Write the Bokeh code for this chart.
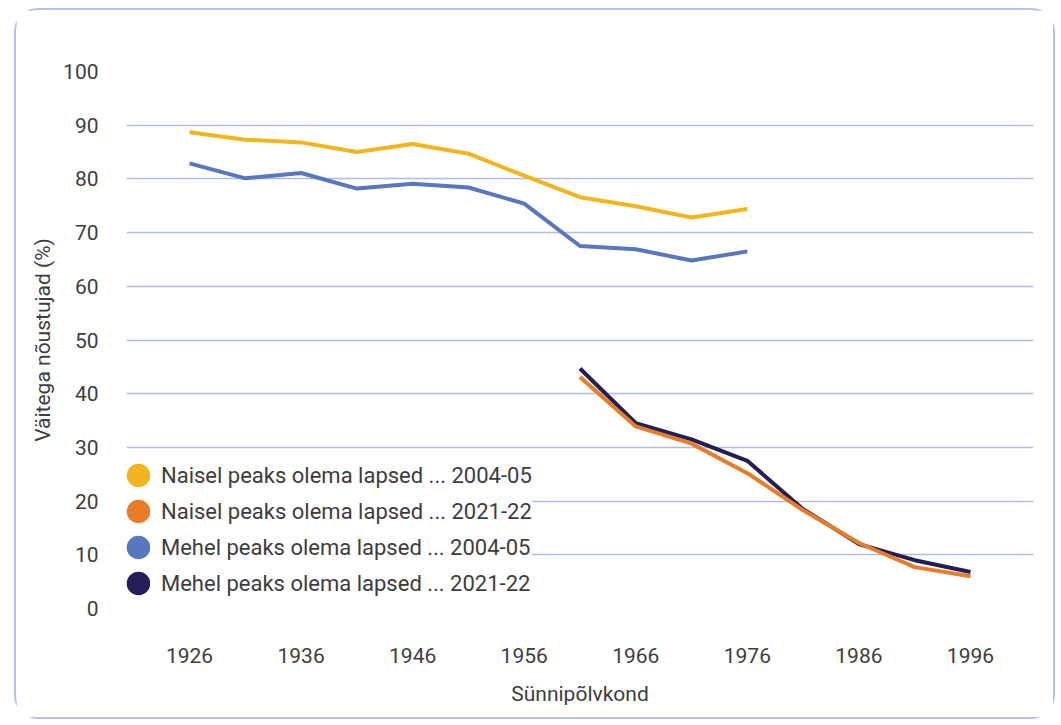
from bokeh.plotting import figure
from bokeh.models import Range1d, Legend, LegendItem, FixedTicker, ColumnDataSource
from bokeh.embed import file_html
from bokeh.resources import INLINE

# ---- data ----
years_a = [1926, 1931, 1936, 1941, 1946, 1951, 1956, 1961, 1966, 1971, 1976]
naisel_2004 = [88.7, 87.3, 86.8, 85.0, 86.5, 84.7, 80.6, 76.6, 74.9, 72.8, 74.4]
mehel_2004 = [82.9, 80.1, 81.1, 78.2, 79.1, 78.4, 75.4, 67.5, 66.9, 64.8, 66.5]

years_b = [1961, 1966, 1971, 1976, 1981, 1986, 1991, 1996]
naisel_2021 = [43.1, 33.9, 30.7, 25.2, 18.3, 12.2, 7.7, 6.0]
mehel_2021 = [44.7, 34.5, 31.5, 27.5, 18.5, 12.0, 9.0, 6.8]

x_ticks = [1926, 1936, 1946, 1956, 1966, 1976, 1986, 1996]
y_ticks = [0, 10, 20, 30, 40, 50, 60, 70, 80, 90, 100]

labels = [
    "Naisel peaks olema lapsed ... 2004-05",
    "Naisel peaks olema lapsed ... 2021-22",
    "Mehel peaks olema lapsed ... 2004-05",
    "Mehel peaks olema lapsed ... 2021-22",
]
colors = ["#f1b61d", "#e97c27", "#5877be", "#221f58"]
series_x = [years_a, years_b, years_a, years_b]
series_y = [naisel_2004, naisel_2021, mehel_2004, mehel_2021]

FONT = "Roboto"
TXT = "#3d3d3d"

p = figure(
    width=1041, height=711,
    x_range=Range1d(1920.35, 2001.65),
    y_range=Range1d(0, 100),
    output_backend="svg", toolbar_location=None,
    min_border_left=110, min_border_right=24,
    min_border_top=61, min_border_bottom=113,
)
p.margin = (8, 0, 0, 14)
p.styles = {"border": "2px solid #b7c0e8", "border-radius": "24px"}
p.outline_line_color = None
p.background_fill_color = "white"
p.border_fill_color = "white"

p.xgrid.grid_line_color = None
p.ygrid.grid_line_color = "#b0bae4"
p.ygrid.grid_line_width = 1.5

p.xaxis.ticker = FixedTicker(ticks=x_ticks)
p.yaxis.ticker = FixedTicker(ticks=y_ticks)
for ax in (p.xaxis[0], p.yaxis[0]):
    ax.axis_line_color = None
    ax.major_tick_line_color = None
    ax.minor_tick_line_color = None
    ax.major_label_text_font = FONT
    ax.major_label_text_font_size = "21px"
    ax.major_label_text_color = TXT
    ax.axis_label_text_font = FONT
    ax.axis_label_text_font_size = "21px"
    ax.axis_label_text_font_style = "normal"
    ax.axis_label_text_color = TXT

p.xaxis.axis_label = "Sünnipõlvkond"
p.yaxis.axis_label = "Väitega nõustujad (%)"
p.xaxis.major_label_standoff = 33
p.xaxis.axis_label_standoff = 16
p.yaxis.major_label_standoff = 22
p.yaxis.axis_label_standoff = 5

lw = 4
p.line(years_a, mehel_2004, line_color=colors[2], line_width=lw, line_join="round")
p.line(years_a, naisel_2004, line_color=colors[0], line_width=lw, line_join="round")
p.line(years_b, mehel_2021, line_color=colors[3], line_width=lw, line_join="round")
p.line(years_b, naisel_2021, line_color=colors[1], line_width=lw, line_join="round")

# legend swatches: hidden circle-marker renderers, drawn only as legend glyphs
items = []
for lab, col, xs, ys in zip(labels, colors, series_x, series_y):
    src = ColumnDataSource(data=dict(x=xs, y=ys))
    r = p.scatter("x", "y", source=src, marker="circle",
                  fill_color=col, line_color=col, line_width=14)
    r.visible = False
    items.append(LegendItem(label=lab, renderers=[r]))

legend = Legend(
    items=items, location=(0, 10),
    glyph_width=24, glyph_height=30, label_height=30, spacing=6,
    padding=2, label_standoff=11, margin=0,
    label_text_font=FONT, label_text_font_size="22px", label_text_color=TXT,
    background_fill_color="white", background_fill_alpha=1.0,
    border_line_color=None,
)
p.add_layout(legend)

open("out.html", "w").write(file_html(p, INLINE))
